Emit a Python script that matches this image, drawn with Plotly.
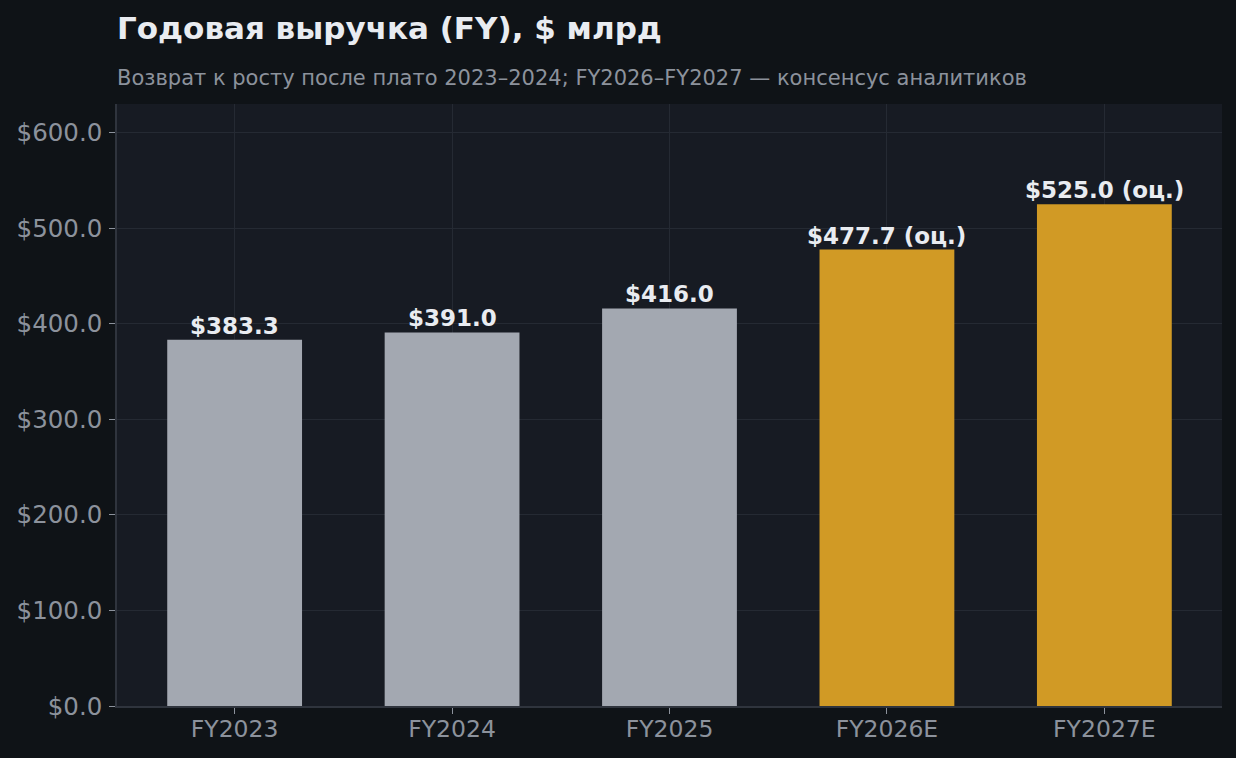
import plotly.graph_objects as go

categories = ["FY2023", "FY2024", "FY2025", "FY2026E", "FY2027E"]
revenue = [383.3, 391.0, 416.0, 477.7, 525.0]
is_estimate = [False, False, False, True, True]
y_ticks = [0, 100, 200, 300, 400, 500, 600]

BG = "#0f1317"
PLOT_BG = "#171b23"
GRID = "#252a33"
GRAY = "#a3a8b1"
GOLD = "#d19a25"
TEXT = "#e9ecf1"
MUTED = "#8c929c"

colors = [GOLD if e else GRAY for e in is_estimate]
labels = [
    "<b>$%.1f%s</b>" % (v, " (оц.)" if e else "")
    for v, e in zip(revenue, is_estimate)
]
xs = list(range(len(categories)))

fig = go.Figure()
fig.add_trace(
    go.Bar(
        x=xs,
        y=revenue,
        width=0.62,
        marker=dict(color=colors, line=dict(width=0)),
        hoverinfo="skip",
    )
)

# value labels above bars
for x, v, lab in zip(xs, revenue, labels):
    fig.add_annotation(
        x=x, y=v, text=lab, showarrow=False,
        xanchor="center", yanchor="bottom", yshift=-1,
        font=dict(family="DejaVu Sans", size=23, color=TEXT),
    )

fig.update_layout(
    width=1236,
    height=758,
    paper_bgcolor=BG,
    plot_bgcolor=PLOT_BG,
    margin=dict(l=117, r=14, t=104, b=52),
    showlegend=False,
    font=dict(family="DejaVu Sans", color=MUTED),
    title=dict(
        text="<b>Годовая выручка (FY), $ млрд</b>",
        x=0,
        xref="paper",
        xanchor="left",
        y=1 - 28 / 758,
        yanchor="middle",
        font=dict(size=31, color=TEXT),
    ),
)
fig.add_annotation(
    text="Возврат к росту после плато 2023–2024; FY2026–FY2027 — консенсус аналитиков",
    xref="paper",
    yref="paper",
    x=0,
    y=1,
    xanchor="left",
    yanchor="middle",
    xshift=-2,
    yshift=26,
    showarrow=False,
    font=dict(size=21, color=MUTED),
)

fig.update_xaxes(
    range=[-0.541, 4.541],
    tickmode="array",
    tickvals=xs,
    ticktext=categories,
    ticks="outside",
    ticklen=6,
    tickcolor=MUTED,
    tickfont=dict(size=23.5, color=MUTED),
    ticklabelstandoff=-5,
    showgrid=True,
    gridcolor=GRID,
    showline=True,
    linecolor="#2f343d",
    linewidth=1.5,
    zeroline=False,
)
fig.update_yaxes(
    range=[0, 630],
    tickmode="array",
    tickvals=y_ticks,
    ticktext=["$%.1f" % t for t in y_ticks],
    ticks="outside",
    ticklen=6,
    tickcolor=MUTED,
    tickfont=dict(size=24.5, color=MUTED),
    ticklabelstandoff=2,
    showgrid=True,
    gridcolor=GRID,
    showline=True,
    linecolor="#2f343d",
    linewidth=1.5,
    zeroline=False,
)

fig.write_html(
    "out.html",
    config={"displayModeBar": False},
    post_script="document.body.style.margin='0';document.body.style.overflow='hidden';",
)
